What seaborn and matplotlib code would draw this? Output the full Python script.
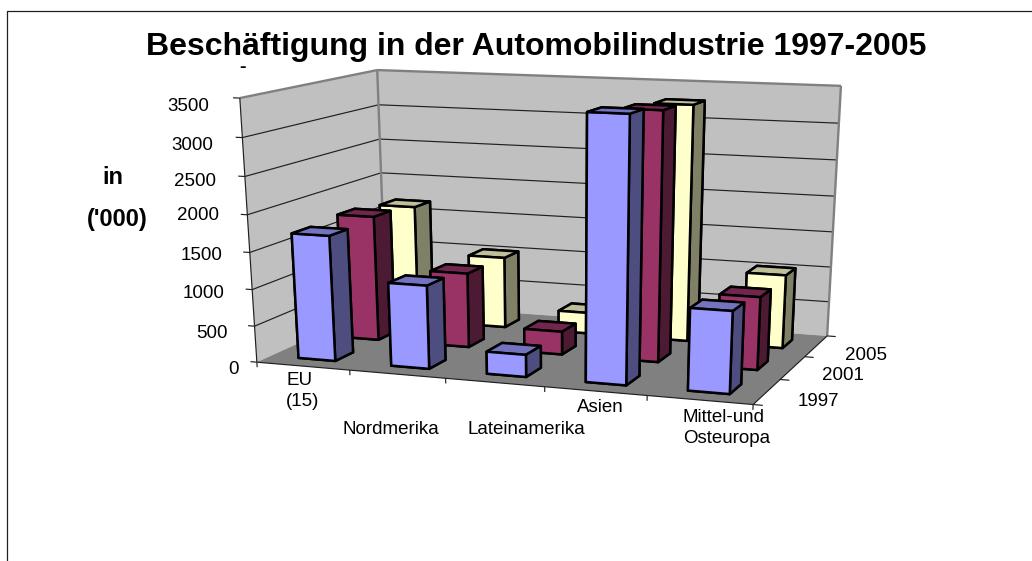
import numpy as np
import matplotlib
matplotlib.use("Agg")
import matplotlib.pyplot as plt
from matplotlib.lines import Line2D
from mpl_toolkits.mplot3d.art3d import Poly3DCollection, Line3DCollection
import seaborn as sns

categories = ["EU\n(15)", "Nordmerika", "Lateinamerika", "Asien", "Mittel-und\nOsteuropa"]
years = ["1997", "2001", "2005"]
values_1997 = [1710, 1130, 300, 3450, 1080]
values_2001 = [1750, 1040, 320, 3350, 990]
values_2005 = [1680, 1020, 300, 3280, 1030]
z_ticks = [0, 500, 1000, 1500, 2000, 2500, 3000, 3500]
title = "Beschäftigung in der Automobilindustrie 1997-2005"

W, H = 1032, 561
sns.set_theme(style="white")
plt.rcParams["font.family"] = ["Liberation Sans", "DejaVu Sans"]
palette = sns.color_palette(["#9999FF", "#993366", "#FFFFCC"])
GAP = 0.3
ZMAX = z_ticks[-1]

# Camera: where the corners of the 3D chart box sit in the picture
anchors = [
    ((0, 0, 0), (257, 362)), ((5, 0, 0), (753, 405)), ((5, 3, 0), (827, 335)),
    ((0, 3, 0), (386, 304)), ((0, 0, 1), (240, 98)), ((0, 3, 1), (377, 70)),
    ((5, 3, 1), (841, 86)), ((1, 0, 0), (349, 370)), ((2, 0, 0), (446, 378)),
    ((3, 0, 0), (545, 387)), ((4, 0, 0), (647, 395)), ((5, 1, 0), (780, 380)),
    ((5, 2, 0), (805, 357)),
]
rows = []
for (X, Y, Z), (u, v) in anchors:
    u, v = u / 1000, v / 1000
    rows.append([X, Y, Z, 1, 0, 0, 0, 0, -u * X, -u * Y, -u * Z, -u])
    rows.append([0, 0, 0, 0, X, Y, Z, 1, -v * X, -v * Y, -v * Z, -v])
P = np.linalg.svd(np.array(rows))[2][-1].reshape(3, 4)
P = np.diag([1000, 1000, 1.0]) @ P @ np.diag([1, 1, 1 / ZMAX, 1])
if P[2] @ np.array([2.5, 1.5, ZMAX / 2, 1]) < 0:
    P = -P
M = np.vstack([P[0], P[1], [0, 0, 0, -1], P[2]])

fig = plt.figure(figsize=(W / 100, H / 100), dpi=100, facecolor="white")
ax = fig.add_axes([0, 0, 1, 1], projection="3d", computed_zorder=False)
ax.get_proj = lambda: M
ax.apply_aspect = lambda position=None: None
ax.set_axis_off()
ax.patch.set_visible(False)


def shade(c, f):
    return tuple(np.array(c) * f)


def face(pts, fc, z):
    ax.add_collection3d(Poly3DCollection([pts], facecolors=fc, edgecolors="none", linewidths=0, zorder=z))


def lines(segments, color, lw, z):
    ax.add_collection3d(Line3DCollection(segments, colors=color, linewidths=lw, zorder=z))


# walls and floor
face([(0, 0, 0), (0, 3, 0), (0, 3, ZMAX), (0, 0, ZMAX)], "#C0C0C0", 1)
face([(0, 3, 0), (5, 3, 0), (5, 3, ZMAX), (0, 3, ZMAX)], "#C0C0C0", 1)
face([(0, 0, 0), (5, 0, 0), (5, 3, 0), (0, 3, 0)], "#808080", 1)

grid = []
for v in z_ticks[1:-1]:
    grid += [[(0, 0, v), (0, 3, v)], [(0, 3, v), (5, 3, v)]]
lines(grid, "#202020", 0.85, 2)
lines([[(0, 0, ZMAX), (0, 3, ZMAX)], [(0, 3, ZMAX), (5, 3, ZMAX)], [(5, 3, ZMAX), (5, 3, 0)],
       [(0, 3, 0), (0, 3, ZMAX)]], "#808080", 1.7, 2)

# axes lines and ticks
axis_lines = [[(0, 0, 0), (0, 0, ZMAX)], [(0, 0, 0), (5, 0, 0)], [(5, 0, 0), (5, 3, 0)]]
for v in z_ticks:
    axis_lines.append([(-0.07, 0, v), (0, 0, v)])
for i in range(len(categories) + 1):
    axis_lines.append([(i, 0, -70), (i, 0, 0)])
for j in range(len(years) + 1):
    axis_lines.append([(5, j, 0), (5.09, j, 0)])
lines(axis_lines, "#202020", 0.85, 3)

# bars, back row first
series = [values_1997, values_2001, values_2005]
for j in reversed(range(len(series))):
    for i, val in enumerate(series[j]):
        c = palette[j]
        faces = [shade(c, 0.5), shade(c, 0.75), c, shade(c, 0.5), shade(c, 0.5), shade(c, 0.5)]
        ax.bar3d([i + GAP], [j + GAP], [0], 1 - 2 * GAP, 1 - 2 * GAP, [val], color=faces, shade=False,
                 edgecolor="black", linewidth=1.8, zorder=10 + (len(series) - j) * 10 + i)

# the 3D camera above works directly in picture pixels
ax.viewLim.intervalx = (0, W)
ax.viewLim.intervaly = (H, 0)

# frame of the chart area: top and left only
fig.add_artist(Line2D([6.5 / W, 6.5 / W, 1], [0, 1 - 10.5 / H, 1 - 10.5 / H], color="#202020", lw=0.9))


def put(x, y, s, **kw):
    kw.setdefault("ha", "center")
    kw.setdefault("va", "center")
    kw.setdefault("color", "black")
    kw.setdefault("fontsize", 13.5)
    fig.text(x / W, 1 - y / H, s, **kw)


put(536, 47, title, fontsize=23, fontweight="bold")
put(242, 67, "-", fontsize=14, fontweight="bold")
put(113, 178, "in", fontsize=17, fontweight="bold")
put(117, 220, "('000)", fontsize=17, fontweight="bold")

z_label_right = [239, 228, 224, 222, 219, 216, 213, 209]
z_label_y = [370, 333, 293, 256, 216, 181, 145, 107]
for v, xr, yy in zip(z_ticks, z_label_right, z_label_y):
    put(xr, yy, str(v), ha="right")

put(286, 391, categories[0], ha="left", linespacing=1.3)
put(391, 430, categories[1])
put(526, 430, categories[2])
put(600, 408, categories[3])
put(683, 428, categories[4], ha="left", linespacing=1.3)

put(798, 401, years[0], ha="left")
put(822, 376, years[1], ha="left")
put(845, 355, years[2], ha="left")

fig.savefig("out.png", dpi=100, facecolor="white")
